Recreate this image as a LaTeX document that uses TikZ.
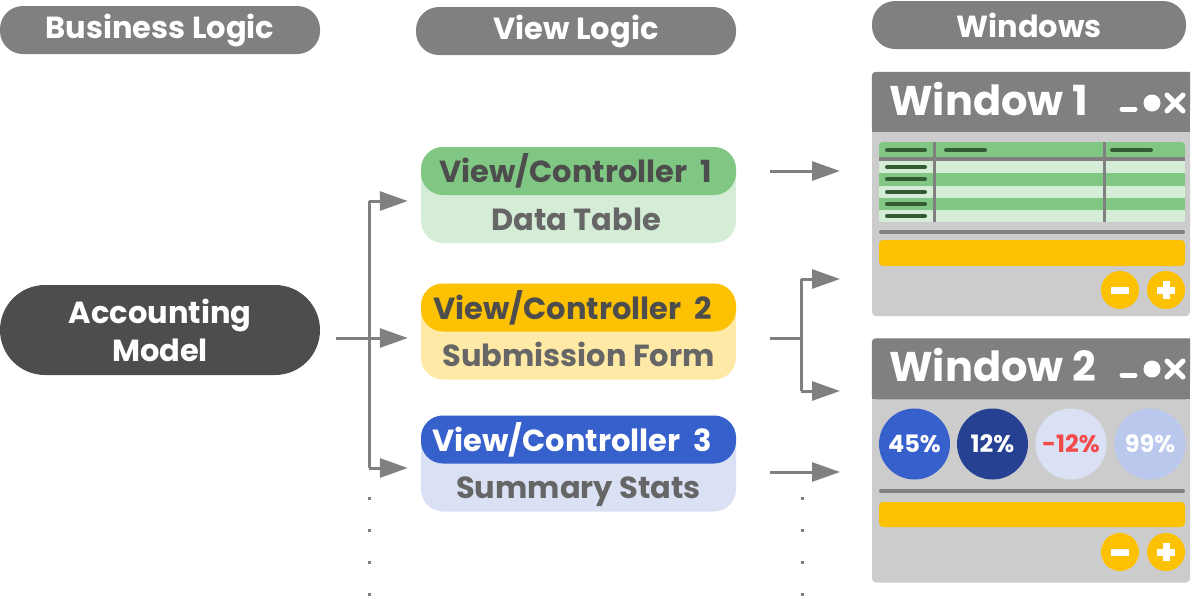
\documentclass[tikz,border=0pt]{standalone}
\usepackage{fontspec}
\setmainfont{Poppins}
\usetikzlibrary{arrows.meta}
\definecolor{hgray}{HTML}{808080}
\definecolor{dgray}{HTML}{4D4D4D}
\definecolor{tgray}{HTML}{666666}
\definecolor{bodyg}{HTML}{CCCCCC}
\definecolor{gr}{HTML}{81C784}
\definecolor{grl}{HTML}{D5ECD6}
\definecolor{ye}{HTML}{FBC102}
\definecolor{yel}{HTML}{FFE9A6}
\definecolor{bl}{HTML}{3660CC}
\definecolor{bll}{HTML}{DBE1F4}
\definecolor{bld}{HTML}{264191}
\definecolor{blm}{HTML}{B9C8EC}
\definecolor{rd}{HTML}{F44A4A}
\definecolor{dkg}{HTML}{335C35}
\tikzset{
  pill/.style={fill=hgray, text=white, rounded corners=23pt, minimum height=48pt, inner sep=0pt, font=\fontsize{30.5}{33}\selectfont\bfseries},
  vcbody/.style={rounded corners=22pt, minimum width=315pt, minimum height=96pt, inner sep=0pt},
  vchead/.style={rounded corners=22pt, minimum width=315pt, minimum height=48pt, inner sep=0pt},
  vchtext/.style={font=\fontsize{30.5}{33}\selectfont\bfseries, inner sep=0pt, anchor=base east},
  vctext/.style={text=tgray, font=\fontsize{30.5}{33}\selectfont\bfseries, inner sep=0pt, anchor=base},
  conn/.style={draw=hgray, line width=3pt},
  arr/.style={conn, -{Triangle[length=28pt,width=19pt]}},
  win/.style={fill=bodyg, rounded corners=4pt, minimum width=318pt, minimum height=244pt, inner sep=0pt},
  wtitle/.style={text=white, font=\fontsize{41.5}{44}\selectfont\bfseries, inner sep=0pt, anchor=base west},
  icon/.style={draw=white, line width=5pt, line cap=round},
  tdash/.style={draw=dkg, line width=4pt, line cap=round},
  sep/.style={draw=hgray, line width=4pt, line cap=round},
  pct/.style={circle, minimum size=71pt, inner sep=0pt, font=\fontsize{24}{26}\selectfont\bfseries},
  btn/.style={circle, fill=ye, minimum size=38pt, inner sep=0pt},
  btnbar/.style={draw=white, line width=7pt},
  dot/.style={fill=hgray, minimum size=3pt, inner sep=0pt}
}
\begin{document}
\begin{tikzpicture}[x=1pt,y=-1pt]
\useasboundingbox (0,0) rectangle (1194,598);

% headers
\node[pill, minimum width=320pt] (hbl) at (160,30) {Business Logic};
\node[pill, minimum width=320pt] (hvl) at (576,31) {View Logic};
\node[pill, minimum width=314pt] (hwin) at (1029,25) {Windows};

% accounting model
\node[fill=dgray, text=white, rounded corners=45pt, minimum width=320pt, minimum height=90pt, inner sep=0pt, align=center, font=\fontsize{30.5}{38}\selectfont\bfseries] (am) at (160,330) {Accounting\\Model};

% view/controllers
\node[vcbody, fill=grl] (vc1) at (578.5,195) {};
\node[vchead, fill=gr, anchor=north] (vc1h) at (vc1.north) {};
\node[vchtext, text=dgray] (vc1l) at (712,182.5) {View/Controller\hspace{13pt}1};
\node[vctext] (vc1t) at (576,230) {Data Table};

\node[vcbody, fill=yel] (vc2) at (578.5,331.5) {};
\node[vchead, fill=ye, anchor=north] (vc2h) at (vc2.north) {};
\node[vchtext, text=dgray] (vc2l) at (712,319) {View/Controller\hspace{13pt}2};
\node[vctext] (vc2t) at (578.5,366.5) {Submission Form};

\node[vcbody, fill=bll] (vc3) at (578.5,463.5) {};
\node[vchead, fill=bl, anchor=north] (vc3h) at (vc3.north) {};
\node[vchtext, text=white] (vc3l) at (712,451) {View/Controller\hspace{13pt}3};
\node[vctext] (vc3t) at (578.5,498.5) {Summary Stats};

% windows
\node[win] (w1) at (1031,194) {};
\fill[hgray, rounded corners=4pt] (w1.north west) -- ++(0,60) -- ++(318,0) [sharp corners] -- (w1.north east) [rounded corners=4pt] -- cycle;
\fill[hgray] (872,120) rectangle (1190,132);
\node[wtitle] (w1t) at (889,115) {Window 1};
\draw[icon] (1122,109) -- (1135,109);
\fill[white] (1152,103) circle (8.5pt);
\draw[icon] (1167,95) -- (1183,111) (1167,111) -- (1183,95);

% table
\fill[gr, rounded corners=4pt] (879,142) rectangle (1185,160);
\fill[grl] (879,160) rectangle (1185,173);
\fill[gr] (879,173) rectangle (1185,186);
\fill[grl] (879,186) rectangle (1185,198);
\fill[gr] (879,198) rectangle (1185,210);
\fill[grl] (879,210) rectangle (1185,222);
\draw[hgray, line width=4pt] (879,159) -- (1185,159);
\draw[hgray, line width=3pt] (934,142) -- (934,222) (1104,142) -- (1104,222);
\foreach \yy in {150,167,179,192,204,216} \draw[tdash] (887,\yy) -- (925,\yy);
\draw[tdash] (946,150) -- (985,150);
\draw[tdash] (1112,150) -- (1151,150);
\draw[sep] (881,232) -- (1183,232);
\fill[ye, rounded corners=4pt] (879,240) rectangle (1185,266);
\node[btn] (w1m) at (1120,290) {};
\node[btn] (w1p) at (1166,290) {};
\draw[btnbar] (1111,290) -- (1129,290);
\draw[btnbar] (1157,290) -- (1175,290) (1166,281) -- (1166,299);

\node[win] (w2) at (1031,460.5) {};
\fill[hgray, rounded corners=4pt] (w2.north west) -- ++(0,61) -- ++(318,0) [sharp corners] -- (w2.north east) [rounded corners=4pt] -- cycle;
\fill[hgray] (872,387) rectangle (1190,399);
\node[wtitle] (w2t) at (889,381) {Window 2};
\draw[icon] (1122,375) -- (1135,375);
\fill[white] (1152,369) circle (8.5pt);
\draw[icon] (1167,361) -- (1183,377) (1167,377) -- (1183,361);

\node[pct, fill=bl, text=white] (c1) at (914.5,444) {45\%};
\node[pct, fill=bld, text=white] (c2) at (992.5,444) {12\%};
\node[pct, fill=bll, text=rd] (c3) at (1071,444) {-12\%};
\node[pct, fill=blm, text=white] (c4) at (1150,444) {99\%};
\draw[sep] (881,491) -- (1183,491);
\fill[ye, rounded corners=4pt] (879,502) rectangle (1185,527);
\node[btn] (w2m) at (1120,552) {};
\node[btn] (w2p) at (1166,552) {};
\draw[btnbar] (1111,552) -- (1129,552);
\draw[btnbar] (1157,552) -- (1175,552) (1166,543) -- (1166,561);

% connectors left
\coordinate (jl) at (369,338);
\coordinate (jlt) at (369,201);
\coordinate (jlb) at (369,468);
\draw[conn] (am.east |- jl) ++(16,0) coordinate (amo) -- (jl);
\draw[conn] (jlt) -- (jlb);
\draw[arr, shorten >=13pt] (jl) -- (vc2.west |- jl);
\draw[arr, shorten >=13pt] (jlt) -- (vc1.west |- jlt);
\draw[arr, shorten >=13pt] (jlb) -- (vc3.west |- jlb);

% connectors right
\coordinate (r1s) at (770,171);
\coordinate (r1e) at (840,171);
\draw[arr] (r1s) -- (r1e);
\coordinate (r2s) at (770,338);
\coordinate (jr) at (801,338);
\coordinate (jrt) at (801,279);
\coordinate (jrb) at (801,391);
\draw[conn] (r2s) -- (jr);
\draw[conn] (jrt) -- (jrb);
\draw[arr] (jrt) -- (840,279) coordinate (r2e);
\draw[arr] (jrb) -- (840,391) coordinate (r3e);
\coordinate (r4s) at (770,472);
\coordinate (r4e) at (840,472);
\draw[arr] (r4s) -- (r4e);

% dots
\foreach \yy [count=\i] in {498,530,562,594} {
  \node[dot] (dl\i) at (369,\yy) {};
  \node[dot] (dr\i) at (802,\yy) {};
}
\end{tikzpicture}
\end{document}
